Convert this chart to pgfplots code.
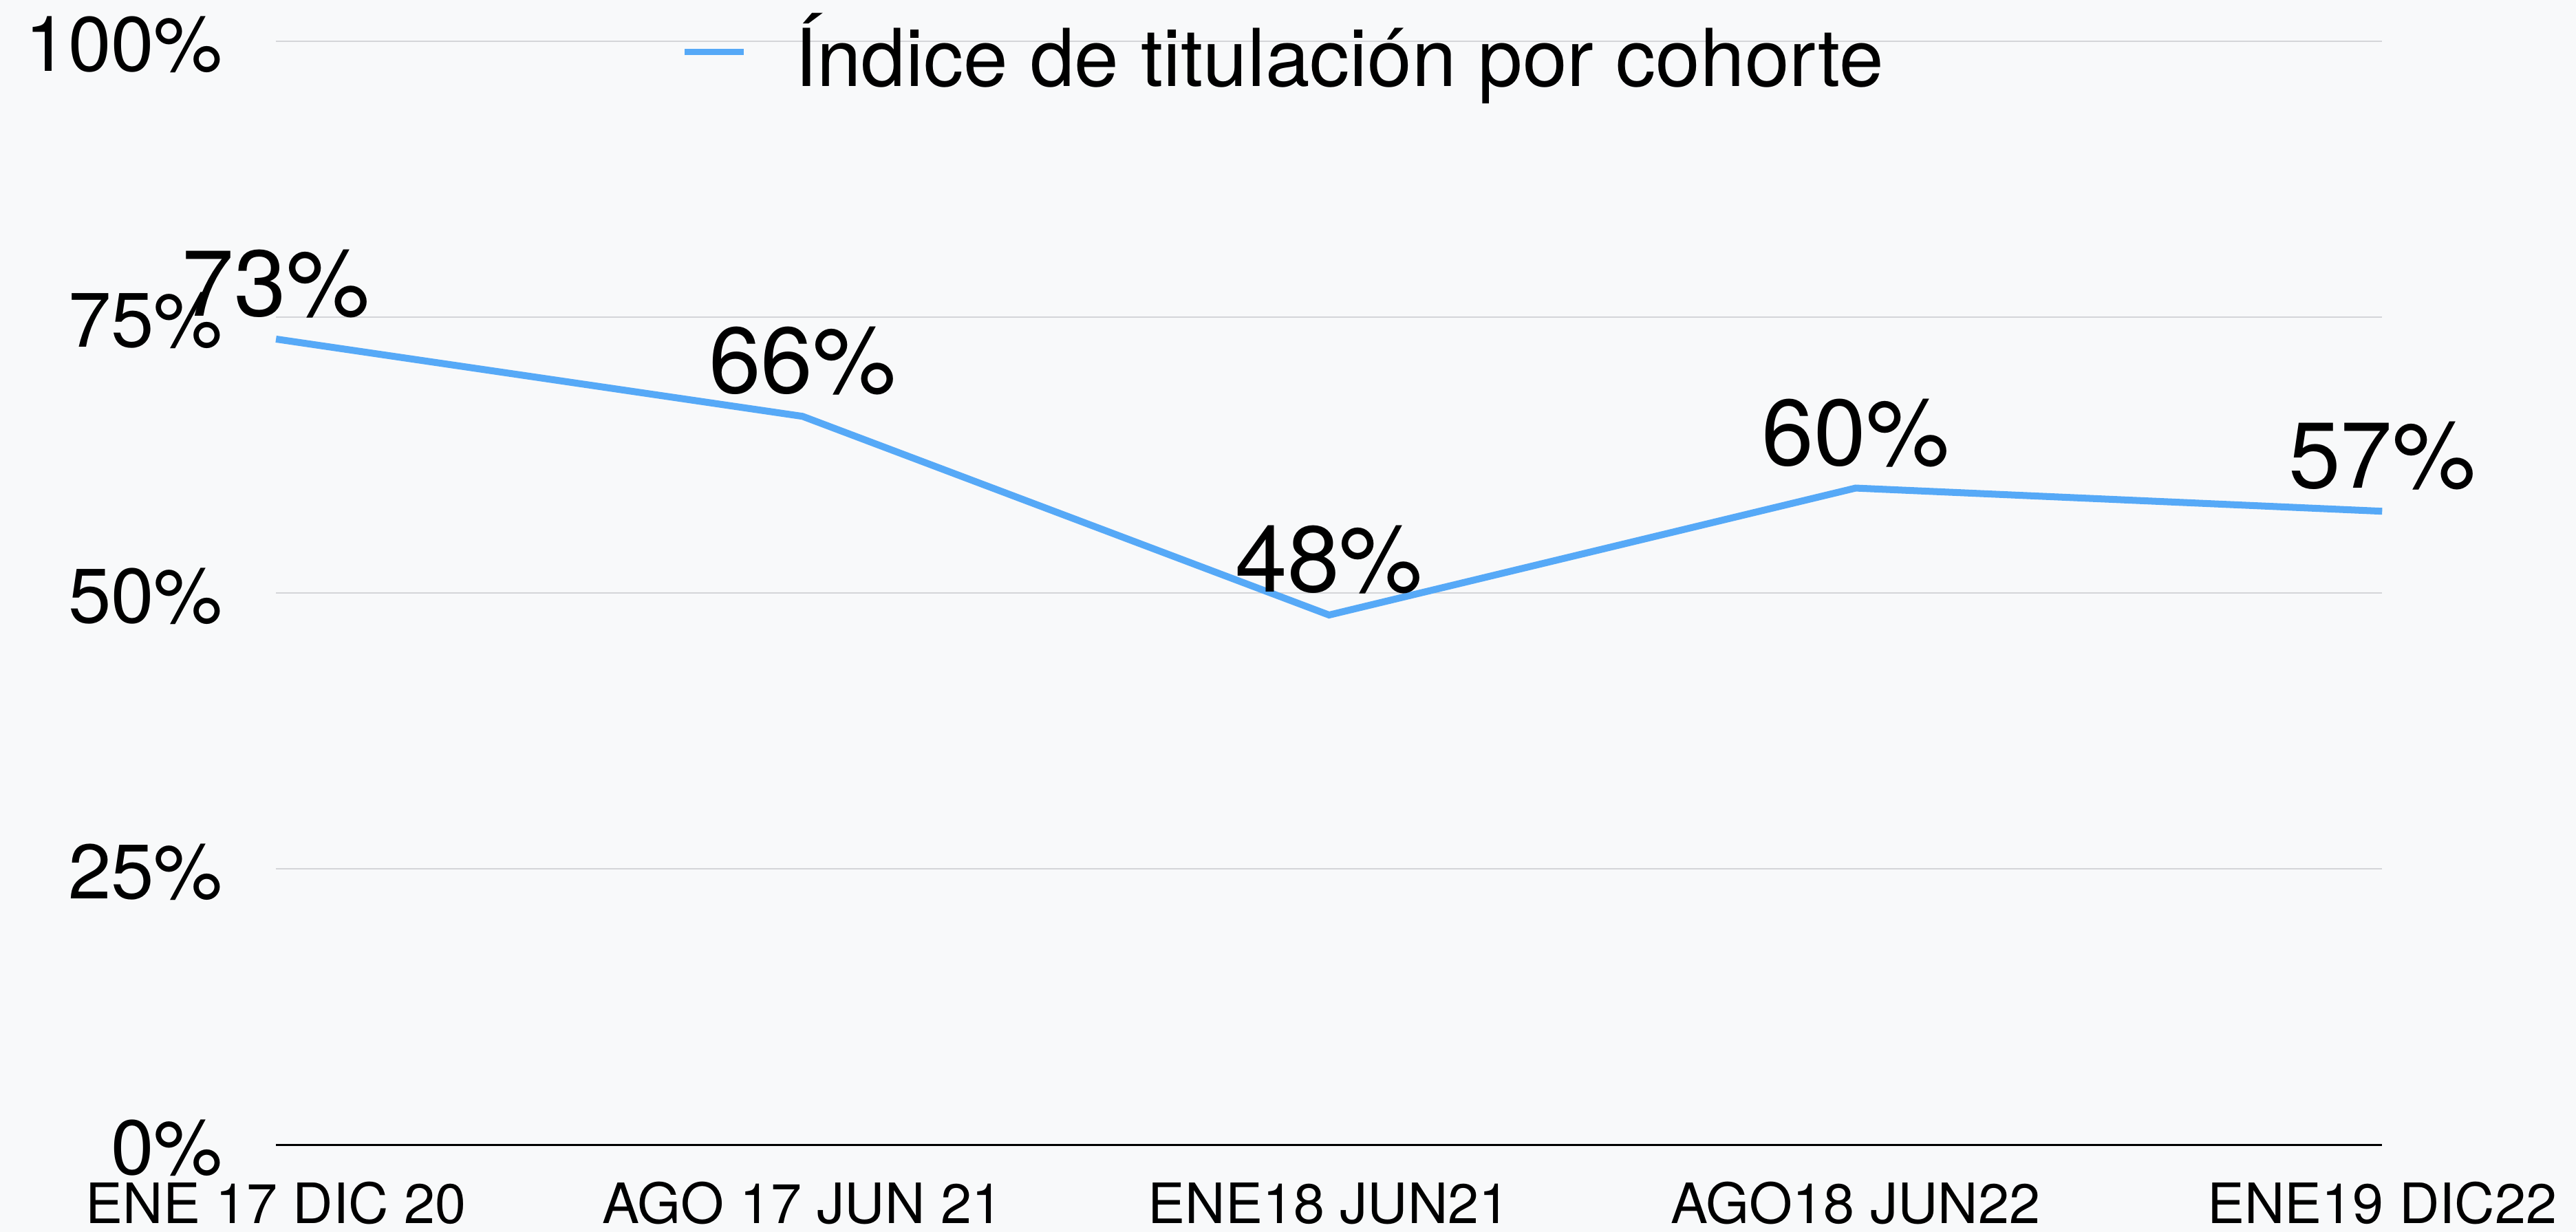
\documentclass[border=0pt]{standalone}
\usepackage{pgfplots}
\pgfplotsset{compat=1.18}
\usepackage{fontspec}
\setmainfont{TeX Gyre Heros}
\definecolor{bgc}{RGB}{248,249,250}
\definecolor{linec}{RGB}{86,169,247}
\definecolor{gridc}{RGB}{212,213,216}
\begin{document}
\begin{tikzpicture}
\fill[bgc] (-84bp,-26.5bp) rectangle (700bp,348.5bp);
\begin{axis}[
  scale only axis,
  width=641bp, height=336bp,
  xmin=0, xmax=4, ymin=0, ymax=100,
  enlargelimits=false,
  clip=false,
  axis x line*=bottom,
  axis y line*=left,
  y axis line style={draw=none},
  x axis line style={black, line width=0.6bp, -},
  major tick length=0pt,
  xtick={0,1,2,3,4},
  xticklabels={ENE 17 DIC 20, AGO 17 JUN 21, ENE18 JUN21, AGO18 JUN22, ENE19 DIC22},
  ytick={0,25,50,75,100},
  yticklabels={0\%,25\%,50\%,75\%,100\%},
  ymajorgrids,
  grid style={gridc, line width=0.4bp},
  yticklabel style={anchor=east, inner sep=0pt, xshift=-16bp, yshift=-1bp, font=\fontsize{23.6}{28}\selectfont},
  xticklabel style={anchor=base, inner sep=0pt, yshift=-24bp, font=\fontsize{17}{20}\selectfont},
  legend style={draw=none, fill=none, inner sep=0pt, outer sep=0pt,
    at={(rel axis cs:0.1925,0.99)}, anchor=west,
    font=\fontsize{24.4}{29}\selectfont,
    nodes={inner sep=0pt}, column sep=14.5bp},
  legend image code/.code={\draw[#1, line width=2bp] (0bp,0bp) -- (18bp,0bp);},
  nodes near coords,
  point meta=explicit symbolic,
  every node near coord/.append style={anchor=base, inner sep=0pt, yshift=7bp, font=\fontsize{28.6}{34}\selectfont, text=black},
]
\addplot[linec, line width=2.1bp, mark=none] table[meta=lab] {
x y lab
0 73 73\%
1 66 66\%
2 48 48\%
3 59.5 60\%
4 57.4 57\%
};
\addlegendentry{Índice de titulación por cohorte}
\end{axis}
\pgfresetboundingbox
\path[use as bounding box] (-84bp,-26.5bp) rectangle (700bp,348.5bp);
\end{tikzpicture}
\end{document}
